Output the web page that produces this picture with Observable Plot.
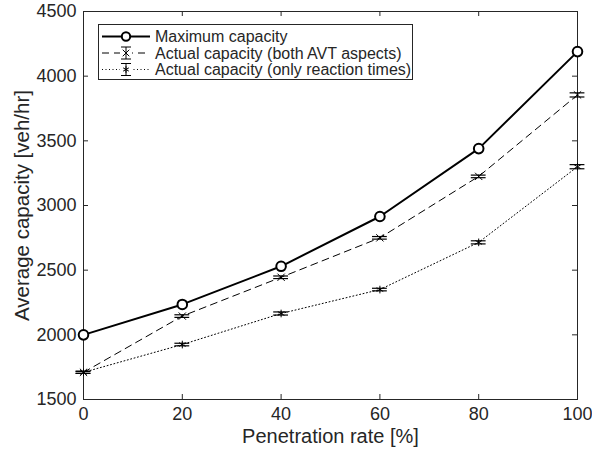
<!DOCTYPE html>
<html>
<head>
<meta charset="utf-8">
<script src="https://cdn.jsdelivr.net/npm/d3@7"></script>
<script src="https://cdn.jsdelivr.net/npm/@observablehq/plot@0.6"></script>
<style>
  html, body { margin: 0; padding: 0; background: #fff; }
  #wrap { position: relative; width: 592px; height: 456px; font-family: "Liberation Sans", Arial, Helvetica, sans-serif; }
  #legend { position: absolute; left: 98px; top: 24px; }
</style>
</head>
<body>
<div id="wrap"></div>
<script>
// ---- data ----
const penetration = [0, 20, 40, 60, 80, 100];
const maxCapacity = [2000, 2235, 2530, 2915, 3440, 4190];
const bothAVT = [1710, 2145, 2445, 2750, 3225, 3855];
const bothAVTErr = [8, 10, 10, 10, 10, 16];
const onlyRT = [1710, 1925, 2165, 2350, 2715, 3300];
const onlyRTErr = [8, 10, 12, 10, 12, 16];
const xTicks = [0, 20, 40, 60, 80, 100];
const yTicks = [1500, 2000, 2500, 3000, 3500, 4000, 4500];
const seriesNames = ["Maximum capacity", "Actual capacity (both AVT aspects)", "Actual capacity (only reaction times)"];
const xLabel = "Penetration rate [%]";
const yLabel = "Average capacity [veh/hr]";

const ink = "#262626";
const font = '"Liberation Sans", Arial, Helvetica, sans-serif';
const W = 592, H = 456, mL = 83, mR = 15, mT = 11, mB = 57;
const fw = W - mL - mR, fh = H - mT - mB, tk = 5;

const maxRows = penetration.map((x, i) => ({x, y: maxCapacity[i]}));
const bothRows = penetration.map((x, i) => ({x, y: bothAVT[i], e: bothAVTErr[i]}));
const rtRows = penetration.map((x, i) => ({x, y: onlyRT[i], e: onlyRTErr[i]}));
const capHalf = 1.5;

function errMarks(rows) {
  return [
    Plot.ruleX(rows, {x: "x", y1: d => d.y - d.e, y2: d => d.y + d.e, stroke: "black", strokeWidth: 1}),
    Plot.ruleY(rows, {y: d => d.y - d.e, x1: d => d.x - capHalf, x2: d => d.x + capHalf, stroke: "black", strokeWidth: 1.2}),
    Plot.ruleY(rows, {y: d => d.y + d.e, x1: d => d.x - capHalf, x2: d => d.x + capHalf, stroke: "black", strokeWidth: 1.2})
  ];
}

const chart = Plot.plot({
  width: W, height: H,
  marginLeft: mL, marginRight: mR, marginTop: mT, marginBottom: mB,
  style: {fontFamily: font, fontSize: "18px", color: ink, background: "white"},
  x: {domain: [0, 100]},
  y: {domain: [1500, 4500]},
  marks: [
    Plot.frame({stroke: ink, strokeWidth: 1}),
    Plot.tickX(xTicks, {x: d => d, insetTop: fh - tk, stroke: ink}),
    Plot.tickX(xTicks, {x: d => d, insetBottom: fh - tk, stroke: ink}),
    Plot.tickY(yTicks, {y: d => d, insetRight: fw - tk, stroke: ink}),
    Plot.tickY(yTicks, {y: d => d, insetLeft: fw - tk, stroke: ink}),
    Plot.axisX({ticks: xTicks, tickSize: 0, tickPadding: 8, label: null, fill: ink, fontSize: 18, tickFormat: d3.format("d")}),
    Plot.axisY({ticks: yTicks, tickSize: 0, tickPadding: 7, label: null, fill: ink, fontSize: 18, tickFormat: d3.format("d")}),
    Plot.text([xLabel], {frameAnchor: "bottom", textAnchor: "middle", dy: 43, fontSize: 20, fill: ink}),
    Plot.text([yLabel], {frameAnchor: "left", textAnchor: "middle", dx: -61, rotate: -90, fontSize: 20.5, fill: ink}),
    // only reaction times (dotted)
    Plot.line(rtRows, {x: "x", y: "y", stroke: "black", strokeWidth: 1, strokeDasharray: "1,2.5"}),
    ...errMarks(rtRows),
    Plot.dot(rtRows, {x: "x", y: "y", symbol: "asterisk", r: 3.6, stroke: "black", strokeWidth: 1}),
    // both AVT aspects (dashed)
    Plot.line(bothRows, {x: "x", y: "y", stroke: "black", strokeWidth: 1, strokeDasharray: "7,5"}),
    ...errMarks(bothRows),
    Plot.dot(bothRows, {x: "x", y: "y", symbol: "times", r: 3.4, stroke: "black", strokeWidth: 1}),
    // maximum capacity (solid)
    Plot.line(maxRows, {x: "x", y: "y", stroke: "black", strokeWidth: 2}),
    Plot.dot(maxRows, {x: "x", y: "y", r: 4.8, stroke: "black", strokeWidth: 2, fill: "white"})
  ]
});

const wrap = document.getElementById("wrap");
wrap.appendChild(chart);

// ---- legend ----
const lw = 314, lh = 55;
const leg = d3.create("svg").attr("id", "legend").attr("width", lw + 1).attr("height", lh + 1);
leg.append("rect").attr("x", 0.5).attr("y", 0.5).attr("width", lw).attr("height", lh)
  .attr("fill", "white").attr("stroke", ink).attr("stroke-width", 1);
const rowsY = [12.5, 29, 45.5];
const styles = [
  {dash: null, width: 2, sym: "circle"},
  {dash: "7,5", width: 1, sym: "times", err: true},
  {dash: "1,2.5", width: 1, sym: "asterisk", err: true}
];
const x0 = 4, x1 = 52, xm = 28;
seriesNames.forEach((name, i) => {
  const y = rowsY[i], s = styles[i];
  const g = leg.append("g");
  g.append("line").attr("x1", x0).attr("x2", x1).attr("y1", y).attr("y2", y)
    .attr("stroke", "black").attr("stroke-width", s.width).attr("stroke-dasharray", s.dash);
  if (s.sym === "circle") {
    g.append("circle").attr("cx", xm).attr("cy", y).attr("r", 4.2).attr("fill", "white").attr("stroke", "black").attr("stroke-width", 2);
  } else {
    g.append("rect").attr("x", xm - 6).attr("y", y - 7).attr("width", 12).attr("height", 14).attr("fill", "white");
    g.append("line").attr("x1", xm).attr("x2", xm).attr("y1", y - 6).attr("y2", y + 6).attr("stroke", "black");
    g.append("line").attr("x1", xm - 5).attr("x2", xm + 5).attr("y1", y - 6).attr("y2", y - 6).attr("stroke", "black");
    g.append("line").attr("x1", xm - 5).attr("x2", xm + 5).attr("y1", y + 6).attr("y2", y + 6).attr("stroke", "black");
    const sym = s.sym === "times" ? d3.symbolTimes : d3.symbolAsterisk;
    g.append("path").attr("transform", `translate(${xm},${y})`).attr("d", d3.symbol(sym, 30)())
      .attr("fill", "none").attr("stroke", "black").attr("stroke-width", 1);
  }
  g.append("text").attr("x", 57).attr("y", y).attr("dy", "0.36em")
    .attr("font-size", 16).attr("fill", ink)
    .attr("font-family", font)
    .text(name);
});
wrap.appendChild(leg.node());
</script>
</body>
</html>
